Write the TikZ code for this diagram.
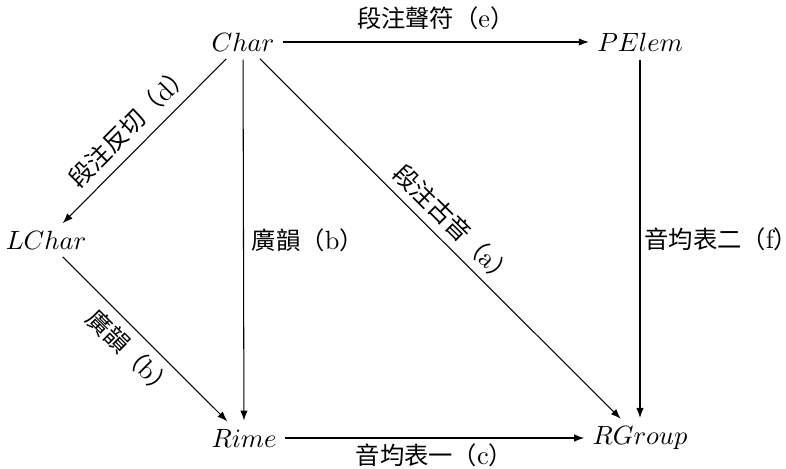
\documentclass[tikz,border=0pt]{standalone}
\usepackage{fontspec}
\newfontfamily\cjk{Noto Sans CJK TC}
\usetikzlibrary{arrows.meta}
\tikzset{
  obj/.style={inner sep=2pt, font=\fontsize{10}{12}\selectfont},
  arr/.style={-{Latex[length=3.8pt,width=2.8pt]}, line width=0.4pt, shorten >=1pt, shorten <=1pt},
  lab/.style={font=\cjk\fontsize{9.2}{11}\selectfont, inner sep=2pt},
}
\newcommand{\lt}[1]{{\fontspec{Latin Modern Roman}\fontsize{10}{12}\selectfont #1}}
\begin{document}
\begin{tikzpicture}[x=0.379pt,y=-0.379pt]
\useasboundingbox (0,0) rectangle (786,468);
\node[obj] (char) at (243,42) {$Char$};
\node[obj] (pelem) at (640,42) {$PElem$};
\node[obj] (lchar) at (46,240) {$LChar$};
\node[obj] (rime) at (244,438) {$Rime$};
\node[obj] (rgroup) at (640,438) {$RGroup$};
\draw[arr] (char) -- node[lab, above=2.5pt] {段注聲符（\lt{e}）} (pelem);
\draw[arr] (char) -- node[lab, sloped, above=1.5pt] {段注反切（\lt{d}）} (lchar);
\draw[arr] (char) -- node[lab, right=1pt] {廣韻（\lt{b}）} (rime);
\draw[arr] (char) -- node[lab, sloped, above=1pt] {段注古音（\lt{a}）} (rgroup);
\draw[arr] (pelem) -- node[lab, right=-0.5pt] {音均表二（\lt{f}）} (rgroup);
\draw[arr] (lchar) -- node[lab, sloped, below=1pt] {廣韻（\lt{b}）} (rime);
\draw[arr] (rime) -- node[lab, below=0pt] {音均表一（\lt{c}）} (rgroup);
\end{tikzpicture}
\end{document}
